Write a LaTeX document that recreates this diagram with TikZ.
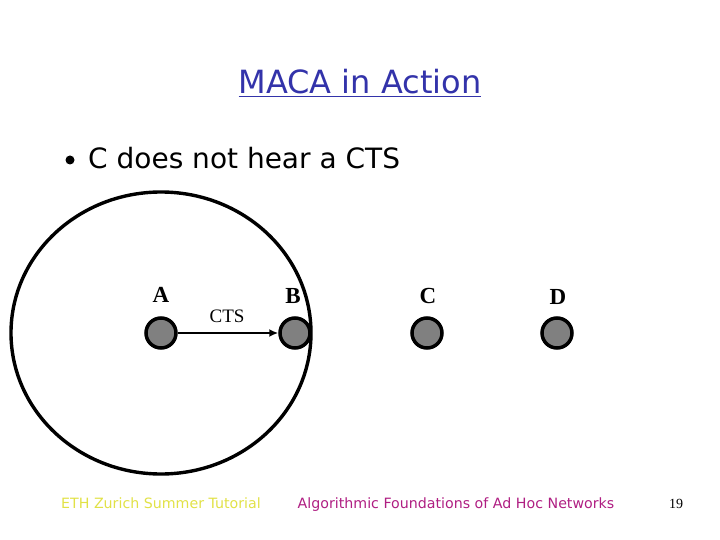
\documentclass[tikz,border=0pt]{standalone}
\usepackage{fontspec}
\setmainfont{Liberation Serif}
\newfontfamily\verdana{DejaVu Sans}
\usepackage{xcolor}
\definecolor{titleblue}{RGB}{ 51,  51, 170}
\definecolor{footyellow}{RGB}{225, 225,  70}
\definecolor{footmagenta}{RGB}{175,  30, 130}
\definecolor{stationgray}{RGB}{128, 128, 128}
\usepackage{tikz}
\usetikzlibrary{arrows.meta, positioning}

\begin{document}
\begin{tikzpicture}[x=1pt, y=-1pt,
    station/.style={circle, draw=black, line width=3.5pt, fill=stationgray,
      minimum size=30pt, inner sep=0pt},
    stationlabel/.style={font=\bfseries\fontsize{23}{25}\selectfont, inner sep=0pt},
    footer/.style={font=\verdana\fontsize{14.2}{16}\selectfont, inner sep=0pt, anchor=base}
  ]
    \useasboundingbox (0,0) rectangle (720,540);

    % title and bullet
    \node[font=\verdana\fontsize{32}{36}\selectfont, text=titleblue, inner sep=0pt] (title)
      at (360,83) {\underline{MACA in Action}};
    \node[font=\verdana\fontsize{28}{32}\selectfont, anchor=west, inner sep=0pt] (bullet)
      at (88,158) {C does not hear a CTS};
    \fill (70,160) circle [radius=4.5];

    % range of B
    \draw[line width=3.4pt] (161,333) ellipse [x radius=150, y radius=141];

    % stations
    \node[station] (a) at (161,333) {};
    \node[station] (b) at (295,333) {};
    \node[station] (c) at (427,333) {};
    \node[station] (d) at (557,333) {};

    \node[stationlabel] (la) at (161,295) {A};
    \node[stationlabel] (lb) at (293,296) {B};
    \node[stationlabel] (lc) at (428,296) {C};
    \node[stationlabel] (ld) at (558,297) {D};

    % CTS from A to B
    \draw[line width=2.2pt, -{Latex[length=9pt, width=8pt]}] (a) -- (b);
    \node[font=\fontsize{19}{21}\selectfont, inner sep=0pt] (cts) at (227,316) {CTS};

    % footer
    \node[footer, text=footyellow] (ethfoot) at (161,508) {ETH Zurich Summer Tutorial};
    \node[footer, text=footmagenta] (algfoot) at (456,508) {Algorithmic Foundations of Ad Hoc Networks};
    \node[footer, font=\fontsize{14}{16}\selectfont] (page) at (676,508) {19};
  \end{tikzpicture}
\end{document}
